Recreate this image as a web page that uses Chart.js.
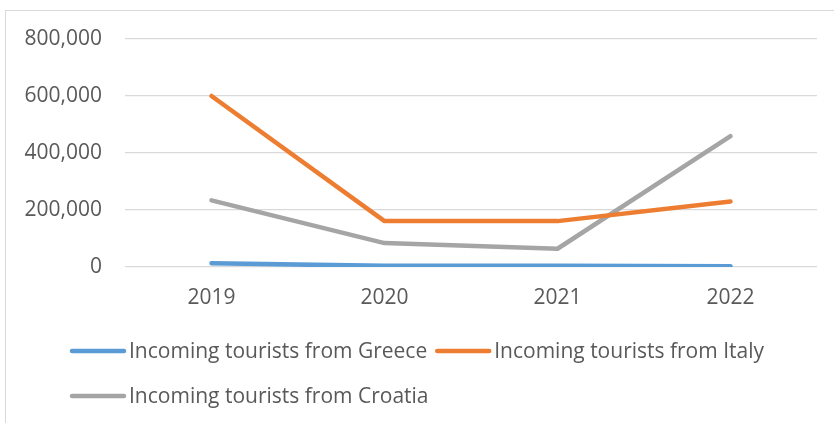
<!DOCTYPE html>
<html>
<head>
<meta charset="utf-8">
<title>Incoming tourists</title>
<script src="https://cdn.jsdelivr.net/npm/chart.js@4"></script>
<style>
  html, body { margin: 0; padding: 0; background: #fff; overflow: hidden; }
  #wrap { position: relative; width: 834px; height: 423px; }
  #frame {
    position: absolute; left: 5px; top: 10px; width: 900px; height: 500px;
    border: 1px solid #d9d9d9; pointer-events: none;
  }
</style>
</head>
<body>
<div id="wrap">
  <canvas id="tourists" width="834" height="423"></canvas>
  <div id="frame"></div>
</div>
<script>
'use strict';

var years = ['2019', '2020', '2021', '2022'];
var fromGreece = [13000, 4000, 4000, 3000];
var fromItaly = [600000, 161000, 161000, 230000];
var fromCroatia = [234000, 84000, 64000, 459000];
var yMin = 0, yMax = 800000, yStep = 200000;

var labelFont = 'Open Sans';
var textColor = '#595959';

// Excel-style legend: short thick line followed by text, first row centred,
// wrapped items start under the first one
var lineLegend = {
  id: 'lineLegend',
  afterDraw: function(chart) {
    var ctx = chart.ctx;
    var ds = chart.data.datasets;
    var swatch = 56, gap = 3, itemGap = 8;
    var rows = [[0, 1], [2]];
    ctx.save();
    ctx.font = '21px "' + labelFont + '"';
    ctx.textBaseline = 'middle';
    ctx.fillStyle = textColor;
    var widths = ds.map(function(d) { return swatch + gap + ctx.measureText(d.label).width; });
    var first = widths[0] + itemGap + widths[1];
    var x0 = (chart.width - first) / 2;
    rows.forEach(function(row, r) {
      var x = x0;
      var y = 351 + r * 45;
      row.forEach(function(i) {
        ctx.strokeStyle = ds[i].borderColor;
        ctx.lineWidth = 4.5;
        ctx.lineCap = 'round';
        ctx.beginPath();
        ctx.moveTo(x + 2, y);
        ctx.lineTo(x + swatch - 2, y);
        ctx.stroke();
        ctx.fillText(ds[i].label, x + swatch + gap, y + 1);
        x += widths[i] + itemGap;
      });
    });
    ctx.restore();
  }
};

function series(label, data, color) {
  return {
    label: label,
    data: data,
    borderColor: color,
    backgroundColor: color,
    borderWidth: 4.5,
    borderCapStyle: 'round',
    borderJoinStyle: 'round',
    pointRadius: 0,
    pointHoverRadius: 0,
    tension: 0
  };
}

new Chart(document.getElementById('tourists'), {
  type: 'line',
  data: {
    labels: years,
    datasets: [
      series('Incoming tourists from Greece', fromGreece, '#5b9bd5'),
      series('Incoming tourists from Italy', fromItaly, '#ed7d31'),
      series('Incoming tourists from Croatia', fromCroatia, '#a5a5a5')
    ]
  },
  options: {
    responsive: false,
    animation: false,
    layout: { padding: { left: 0, right: 17, top: 39, bottom: 116 } },
    plugins: {
      legend: { display: false },
      tooltip: { enabled: false }
    },
    scales: {
      x: {
        offset: true,
        grid: { display: false, drawTicks: false },
        border: { display: false },
        ticks: { color: textColor, font: { family: labelFont, size: 21 }, padding: 18 },
        afterFit: function(scale) { scale.height = 40; }
      },
      y: {
        min: yMin,
        max: yMax,
        grid: { color: '#d9d9d9', lineWidth: 1.3, drawTicks: false },
        border: { display: false },
        ticks: {
          stepSize: yStep,
          color: textColor,
          font: { family: labelFont, size: 21 },
          padding: 23,
          callback: function(v) { return v.toLocaleString('en-US'); }
        },
        afterFit: function(scale) { scale.width = 125; }
      }
    }
  },
  plugins: [lineLegend]
});
</script>
</body>
</html>
